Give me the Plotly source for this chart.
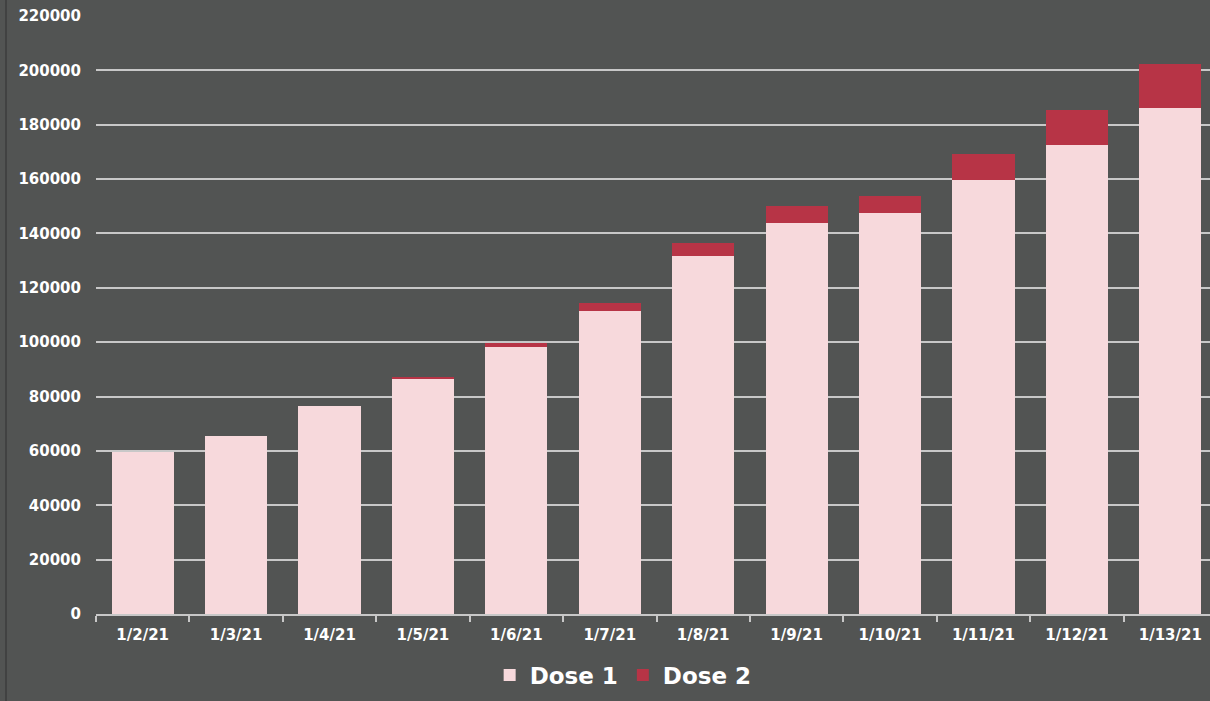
import plotly.graph_objects as go

dates = ["1/2/21", "1/3/21", "1/4/21", "1/5/21", "1/6/21", "1/7/21",
         "1/8/21", "1/9/21", "1/10/21", "1/11/21", "1/12/21", "1/13/21"]
dose1 = [59700, 65600, 76700, 86700, 98400, 111600,
         131600, 144000, 147400, 159800, 172500, 186300]
dose2 = [0, 0, 0, 300, 1300, 2800,
         4900, 6100, 6500, 9600, 12800, 15900]

BG = "#525453"
FONT = "DejaVu Sans"

fig = go.Figure()
fig.add_trace(go.Bar(x=dates, y=dose1, name="Dose 1", marker_color="#f7d9dc",
                     marker_line_width=0))
fig.add_trace(go.Bar(x=dates, y=dose2, name="Dose 2", marker_color="#b73446",
                     marker_line_width=0))

fig.update_layout(
    width=1210, height=701,
    barmode="stack", bargap=0.335,
    paper_bgcolor=BG, plot_bgcolor=BG,
    margin=dict(l=96, r=0, t=16, b=87),
    font=dict(family=FONT, color="white"),
    legend=dict(orientation="h", xref="container", yref="container",
                traceorder="normal",
                x=0.515, xanchor="center", y=0.037, yanchor="middle",
                font=dict(size=23, family=FONT, weight=700, color="white"),
                itemwidth=30, bgcolor="rgba(0,0,0,0)"),
    showlegend=True,
)
fig.update_xaxes(
    type="category", range=[-0.5, 11.425],
    showgrid=False, showline=True, linecolor="#c8c8c8", linewidth=1.5,
    ticks="outside", tickson="boundaries", ticklen=6, tickcolor="#c8c8c8",
    tickwidth=1.5, ticklabelstandoff=6,
    tickfont=dict(size=15, family=FONT, weight=700, color="white"),
)
fig.update_yaxes(
    range=[0, 220000], dtick=20000, tick0=0,
    showgrid=True, gridcolor="#c8c8c8", gridwidth=1.5,
    zeroline=False, showline=False, ticks="", ticklabelstandoff=14,
    tickformat="d",
    tickfont=dict(size=15, family=FONT, weight=700, color="white"),
)
fig.add_shape(type="line", xref="paper", yref="paper",
              x0=-90/1114, x1=-90/1114, y0=-0.2, y1=1.1,
              line=dict(color="#3c3c3c", width=1.5), layer="above")

fig.write_html(
    "out.html",
    config={"displayModeBar": False},
    post_script="document.body.style.margin='0';document.body.style.overflow='hidden';",
)
